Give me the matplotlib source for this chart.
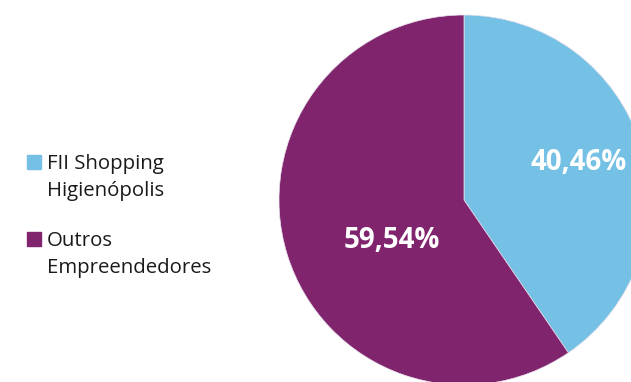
import matplotlib
matplotlib.use("Agg")
import matplotlib.pyplot as plt
from matplotlib.patches import Rectangle

# data
labels = ["FII Shopping\nHigienópolis", "Outros\nEmpreendedores"]
shares = [40.46, 59.54]
colors = ["#75C1E5", "#80246E"]

W, H = 631, 382
fig = plt.figure(figsize=(W / 100, H / 100), dpi=100)
ax = fig.add_axes([0, 0, 1, 1])

# axes in pixel units (y up) so the cropped pie sits where it does in the original
cx, cy, r = 464, H - 200, 185
wedges, _, autotexts = ax.pie(
    shares, colors=colors, startangle=90, counterclock=False,
    center=(cx, cy), radius=r,
    autopct=lambda p: f"{p:.2f}%".replace(".", ","),
    wedgeprops=dict(edgecolor="#e8e0ec", linewidth=0.5),
    textprops=dict(color="white", fontsize=20, fontweight="bold",
                   family="Open Sans"),
)
# label offsets from the centre (px)
label_offsets = [(115, 38), (-72, -40)]
for t, (dx, dy) in zip(autotexts, label_offsets):
    t.set_position((cx + dx, cy + dy))
    t.set_ha("center")
    t.set_va("center")

ax.set_xlim(0, W)
ax.set_ylim(0, H)
ax.set_aspect("equal")
ax.axis("off")

# legend drawn by hand so the swatch sits on the first line of each label
legend_tops = [169, 246]   # baseline of the first line, px from top
line_step = 27
for lab, col, base in zip(labels, colors, legend_tops):
    ax.add_patch(Rectangle((27, H - base), 14, 14, color=col, clip_on=False))
    for i, line in enumerate(lab.split("\n")):
        ax.text(47, H - base - i * line_step, line, fontsize=14.7,
                family="Open Sans", color="#1a1a1a", va="baseline", ha="left")

fig.savefig("out.png", dpi=100)
